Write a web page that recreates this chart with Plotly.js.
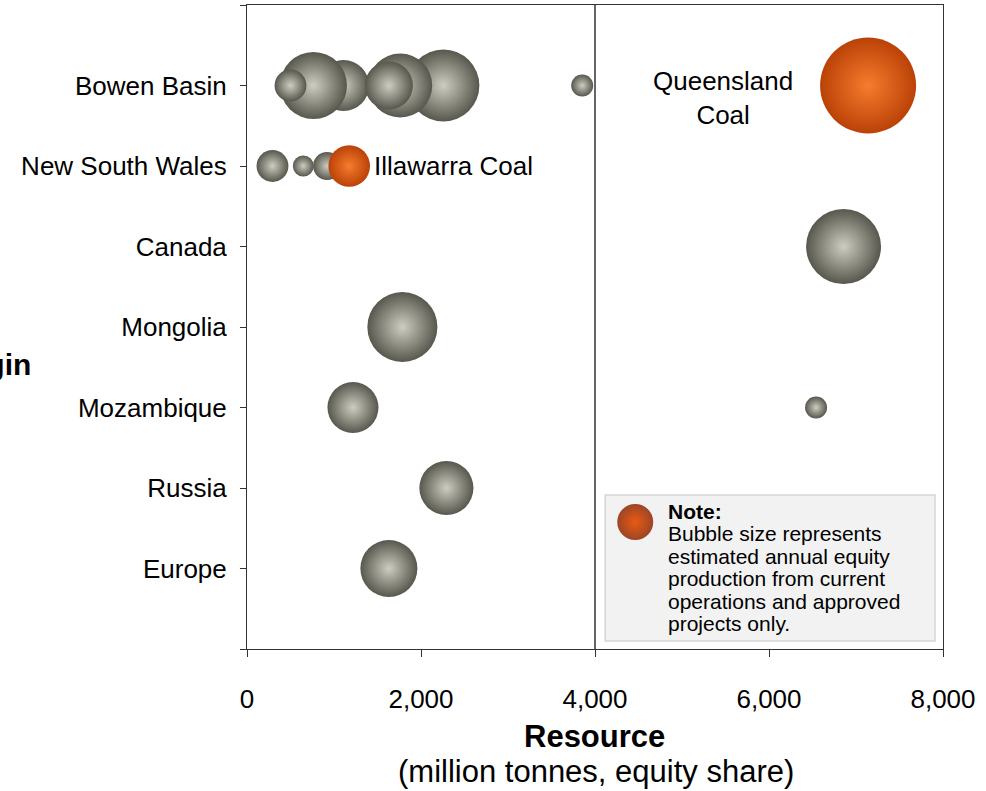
<!DOCTYPE html>
<html>
<head>
<meta charset="utf-8">
<script src="https://cdn.plot.ly/plotly-3.0.1.min.js"></script>
<style>html,body{margin:0;padding:0;background:#fff;}#chart{width:986px;height:791px;}</style>
</head>
<body>
<div id="chart"></div>
<script>
// Categories (top to bottom)
var categories = ['Bowen Basin', 'New South Wales', 'Canada', 'Mongolia', 'Mozambique', 'Russia', 'Europe'];

// Other assets (grey bubbles): origin, resource (Mt, equity share), production (relative)
var otherOrigin = ['Bowen Basin', 'Bowen Basin', 'Bowen Basin', 'Bowen Basin', 'Bowen Basin', 'Bowen Basin', 'Bowen Basin',
                   'New South Wales', 'New South Wales', 'New South Wales',
                   'Canada', 'Mongolia', 'Mozambique', 'Mozambique', 'Russia', 'Europe'];
var otherResource = [2257, 1761, 1110, 764, 500, 1631, 3853,
                     293, 647, 921,
                     6857, 1786, 1218, 6541, 2292, 1631];
var otherProduction = [22.5, 17.8, 11.3, 19.5, 4.4, 10.0, 2.1,
                       4.4, 1.9, 3.4,
                       24.4, 21.3, 11.3, 2.1, 12.7, 14.1];

// Highlighted assets (orange bubbles)
var keyNames = ['Queensland Coal', 'Illawarra Coal'];
var keyOrigin = ['Bowen Basin', 'New South Wales'];
var keyResource = [7139, 1175];
var keyProduction = [40, 7.5];

// X ticks
var xTicks = [0, 2000, 4000, 6000, 8000];

function catPos(name) { return categories.indexOf(name) + 1; }
var maxProd = Math.max.apply(null, otherProduction.concat(keyProduction));
var sizeref = 2 * maxProd / (96 * 96);

var FONT = 'Arial, "Liberation Sans", sans-serif';

var traces = [
  {
    type: 'scatter', mode: 'markers',
    x: otherResource, y: otherOrigin.map(catPos),
    marker: {
      size: otherProduction, sizemode: 'area', sizeref: sizeref,
      color: '#57574d', opacity: 1,
      gradient: {type: 'radial', color: '#cdcdc1'},
      line: {width: 0}
    },
    hoverinfo: 'x+y', showlegend: false
  },
  {
    type: 'scatter', mode: 'markers',
    x: keyResource, y: keyOrigin.map(catPos), text: keyNames,
    marker: {
      size: keyProduction, sizemode: 'area', sizeref: sizeref,
      color: '#bb4207', opacity: 1,
      gradient: {type: 'radial', color: '#f67c2e'},
      line: {width: 0}
    },
    hoverinfo: 'text+x', showlegend: false
  },
  {
    // note icon (decorative)
    type: 'scatter', mode: 'markers', xaxis: 'x2', yaxis: 'y2',
    x: [0.5578], y: [0.1972],
    marker: {size: 36, color: '#9c4526', gradient: {type: 'radial', color: '#ea5a12'}, line: {width: 0}},
    hoverinfo: 'skip', showlegend: false
  }
];

var ytickvals = [], yticktext = [];
for (var i = 0; i <= categories.length + 1; i++) {
  ytickvals.push(i);
  yticktext.push(i >= 1 && i <= categories.length ? categories[i - 1] : '');
}

var noteLines = ['<b>Note:</b>', 'Bubble size represents', 'estimated annual equity',
                 'production from current', 'operations and approved', 'projects only.'];
var noteY = [511, 533.5, 556, 578.5, 601, 623.5];

var PL = 246.5, PR = 943, PT = 5, PB = 649;
function px2x(p) { return (p - PL) / (PR - PL); }
function px2y(p) { return (PB - p) / (PB - PT); }

var annotations = [
  {xref: 'x', yref: 'y', x: keyResource[0], y: catPos(keyOrigin[0]), xshift: -145, yshift: -12,
   text: 'Queensland<br>Coal', showarrow: false, xanchor: 'center', yanchor: 'middle',
   font: {family: FONT, size: 26, color: '#000'}},
  {xref: 'x', yref: 'y', x: keyResource[1], y: catPos(keyOrigin[1]), xshift: 23,
   text: 'Illawarra Coal', showarrow: false, xanchor: 'left', yanchor: 'middle',
   font: {family: FONT, size: 26, color: '#000'}},
  {xref: 'paper', yref: 'paper', x: px2x(594), y: px2y(736),
   text: '<b>Resource</b>', showarrow: false, xanchor: 'center', yanchor: 'middle',
   font: {family: FONT, size: 31, color: '#000'}},
  {xref: 'paper', yref: 'paper', x: px2x(596), y: px2y(771),
   text: '(million tonnes, equity share)', showarrow: false, xanchor: 'center', yanchor: 'middle',
   font: {family: FONT, size: 31, color: '#000'}},
  {xref: 'paper', yref: 'paper', x: px2x(32), y: px2y(365),
   text: '<b>Origin</b>', showarrow: false, xanchor: 'right', yanchor: 'middle',
   font: {family: FONT, size: 30, color: '#000'}}
];
noteLines.forEach(function (t, k) {
  annotations.push({xref: 'paper', yref: 'paper', x: px2x(666), y: px2y(noteY[k]),
    text: t, showarrow: false, xanchor: 'left', yanchor: 'middle',
    font: {family: FONT, size: 21, color: '#000'}});
});

var layout = {
  width: 986, height: 791,
  margin: {l: PL, r: 986 - PR, t: PT, b: 791 - PB, pad: 0},
  paper_bgcolor: '#fff', plot_bgcolor: '#fff',
  font: {family: FONT, size: 26, color: '#000'},
  xaxis: {
    range: [0, 8000], tickvals: xTicks, tickformat: ',d',
    showgrid: false, zeroline: false,
    showline: true, linecolor: '#333', linewidth: 1, mirror: true,
    ticks: 'outside', ticklen: 7, tickcolor: '#333', tickwidth: 1,
    ticklabelstandoff: 20,
    tickfont: {family: FONT, size: 26, color: '#000'}
  },
  yaxis: {
    range: [categories.length + 1, 0], tickvals: ytickvals, ticktext: yticktext,
    showgrid: false, zeroline: false,
    showline: true, linecolor: '#333', linewidth: 1, mirror: true,
    ticks: 'outside', ticklen: 6, tickcolor: '#333', tickwidth: 1,
    ticklabelstandoff: 8,
    tickfont: {family: FONT, size: 26, color: '#000'}
  },
  xaxis2: {overlaying: 'x', anchor: 'y2', range: [0, 1], visible: false, fixedrange: true},
  yaxis2: {overlaying: 'y', anchor: 'x2', range: [0, 1], visible: false, fixedrange: true},
  shapes: [
    {type: 'line', xref: 'x', yref: 'paper', x0: 4000, x1: 4000, y0: 0, y1: 1,
     line: {color: '#333', width: 1.5}, layer: 'below'},
    {type: 'rect', xref: 'paper', yref: 'paper', x0: px2x(605), x1: px2x(935), y0: px2y(641), y1: px2y(495),
     fillcolor: '#f2f2f2', line: {color: '#d6d6ce', width: 1.5}, layer: 'below'}
  ],
  annotations: annotations,
  showlegend: false
};

Plotly.newPlot('chart', traces, layout, {displayModeBar: false, staticPlot: true});
</script>
</body>
</html>
